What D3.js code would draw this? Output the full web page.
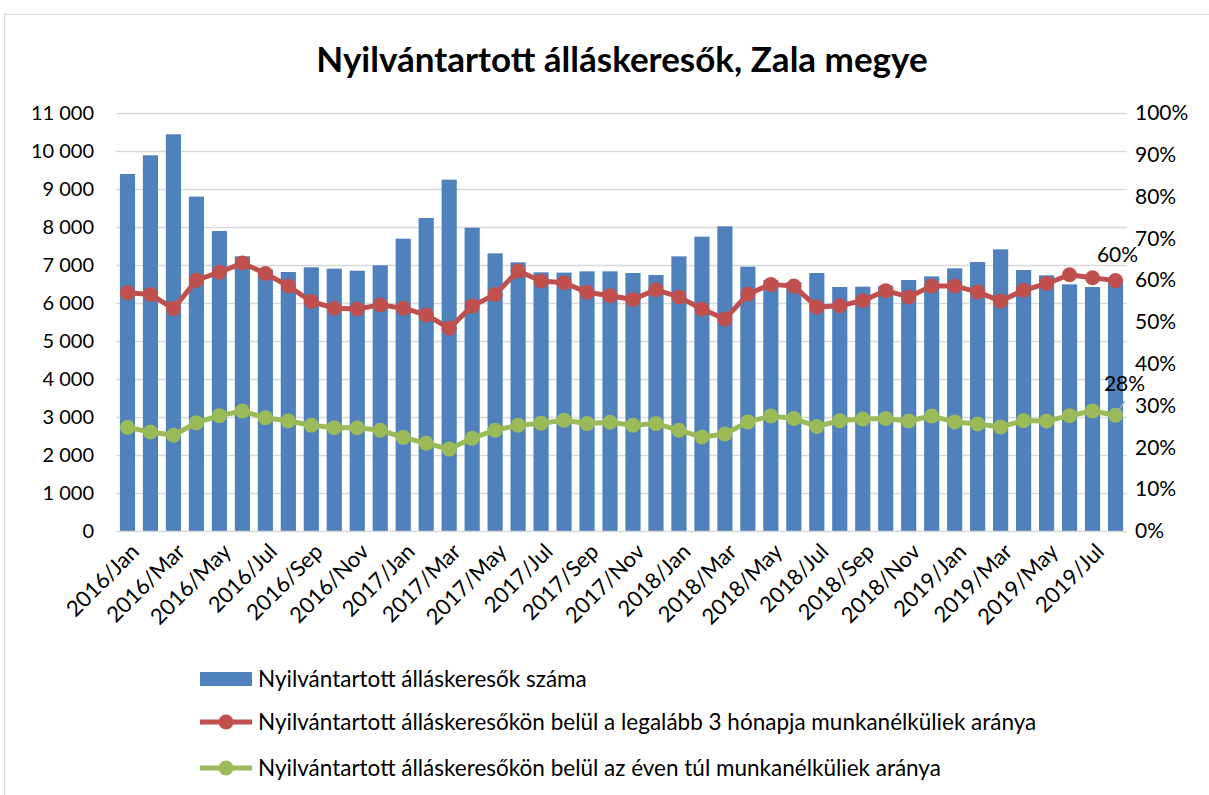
<!DOCTYPE html>
<html>
<head>
<meta charset="utf-8">
<script src="https://cdn.jsdelivr.net/npm/d3@7"></script>
<style>
  body { margin: 0; background: #fff; }
  svg text { font-family: Lato, "Open Sans", sans-serif; fill: #000; }
</style>
</head>
<body>
<div id="chart"></div>
<script>
// --- data ---
const months = [
  '2016/Jan', '2016/Feb', '2016/Mar', '2016/Apr', '2016/May', '2016/Jun',
  '2016/Jul', '2016/Aug', '2016/Sep', '2016/Oct', '2016/Nov', '2016/Dec',
  '2017/Jan', '2017/Feb', '2017/Mar', '2017/Apr', '2017/May', '2017/Jun',
  '2017/Jul', '2017/Aug', '2017/Sep', '2017/Oct', '2017/Nov', '2017/Dec',
  '2018/Jan', '2018/Feb', '2018/Mar', '2018/Apr', '2018/May', '2018/Jun',
  '2018/Jul', '2018/Aug', '2018/Sep', '2018/Oct', '2018/Nov', '2018/Dec',
  '2019/Jan', '2019/Feb', '2019/Mar', '2019/Apr', '2019/May', '2019/Jun',
  '2019/Jul', '2019/Aug'
];

const jobseekers = [
  9395, 9886, 10440, 8800, 7895, 7228, 6880, 6816, 6939, 6904, 6851, 6991,
  7693, 8237, 9246, 7982, 7307, 7070, 6807, 6800, 6833, 6833, 6789, 6737,
  7228, 7746, 8018, 6956, 6600, 6550, 6789, 6421, 6430, 6447, 6605, 6700,
  6912, 7079, 7412, 6868, 6728, 6491, 6421, 6560
];

const longTerm3m = [
  0.570, 0.566, 0.532, 0.600, 0.619, 0.641, 0.616, 0.586, 0.549, 0.533, 0.531, 0.541,
  0.533, 0.517, 0.485, 0.538, 0.566, 0.622, 0.598, 0.594, 0.571, 0.563, 0.554, 0.577,
  0.560, 0.531, 0.507, 0.567, 0.590, 0.586, 0.536, 0.539, 0.551, 0.575, 0.560, 0.586,
  0.586, 0.572, 0.550, 0.576, 0.592, 0.613, 0.606, 0.599
];

const overYear = [
  0.248, 0.237, 0.229, 0.259, 0.276, 0.287, 0.271, 0.263, 0.253, 0.247, 0.247, 0.241,
  0.224, 0.210, 0.196, 0.222, 0.241, 0.253, 0.258, 0.265, 0.257, 0.260, 0.253, 0.257,
  0.241, 0.225, 0.232, 0.261, 0.275, 0.269, 0.250, 0.264, 0.268, 0.269, 0.263, 0.275,
  0.261, 0.256, 0.249, 0.264, 0.263, 0.276, 0.287, 0.277
];

const leftTicks = d3.range(0, 11001, 1000);
const rightTicks = d3.range(0, 1.0001, 0.1);

const titleText = 'Nyilvántartott álláskeresők, Zala megye';
const legendLabels = [
  'Nyilvántartott álláskeresők száma',
  'Nyilvántartott álláskeresőkön belül a legalább 3 hónapja munkanélküliek aránya',
  'Nyilvántartott álláskeresőkön belül az éven túl munkanélküliek aránya'
];

const colors = { bar: '#4F81BD', red: '#C0504D', green: '#9BBB59', grid: '#D9D9D9' };

// --- layout ---
const W = 1209, H = 795;
const plot = { left: 116, right: 1127, top: 113, bottom: 531 };
const tickFont = 21;

const svg = d3.select('#chart').append('svg')
  .attr('width', W)
  .attr('height', H);

svg.append('rect')
  .attr('width', W).attr('height', H)
  .attr('fill', '#fff');

// chart border
svg.append('rect')
  .attr('x', 4.5).attr('y', 14.5)
  .attr('width', W).attr('height', H)
  .attr('fill', 'none')
  .attr('stroke', '#D9D9D9');

const x = d3.scaleBand()
  .domain(months)
  .range([plot.left, plot.right])
  .paddingInner(0.34)
  .paddingOuter(0.17);

const y = d3.scaleLinear().domain([0, 11000]).range([plot.bottom, plot.top]);
const y2 = d3.scaleLinear().domain([0, 1]).range([plot.bottom, plot.top]);

// title
svg.append('text')
  .attr('x', 622).attr('y', 72)
  .attr('text-anchor', 'middle')
  .attr('font-size', 35)
  .attr('font-weight', 'bold')
  .text(titleText);

// gridlines
svg.append('g')
  .selectAll('line')
  .data(leftTicks.slice(1))
  .join('line')
  .attr('x1', plot.left).attr('x2', plot.right)
  .attr('y1', d => y(d) + 0.5).attr('y2', d => y(d) + 0.5)
  .attr('stroke', colors.grid)
  .attr('stroke-width', 1.5);

// left axis
const fmtThousand = d => d >= 1000 ? d3.format(',')(d).replace(/,/g, '\u00a0') : String(d);
const leftAxis = svg.append('g')
  .attr('transform', `translate(${plot.left - 22},0)`)
  .call(d3.axisLeft(y).tickValues(leftTicks).tickFormat(fmtThousand).tickSize(0).tickPadding(0));
leftAxis.select('.domain').remove();
leftAxis.selectAll('text')
  .attr('font-size', 20)
  .attr('font-family', 'Lato, sans-serif')
  .attr('fill', '#000');

// right axis
const rightAxis = svg.append('g')
  .attr('transform', `translate(${plot.right + 8},0)`)
  .call(d3.axisRight(y2).tickValues(rightTicks).tickFormat(d3.format('.0%')).tickSize(0).tickPadding(0));
rightAxis.select('.domain').remove();
rightAxis.selectAll('text')
  .attr('font-size', tickFont)
  .attr('font-family', 'Lato, sans-serif')
  .attr('fill', '#000');

// bars
svg.append('g')
  .selectAll('rect')
  .data(jobseekers)
  .join('rect')
  .attr('x', (d, i) => x(months[i]))
  .attr('y', d => y(d))
  .attr('width', x.bandwidth())
  .attr('height', d => y(0) - y(d))
  .attr('fill', colors.bar);

// baseline
svg.append('line')
  .attr('x1', plot.left).attr('x2', plot.right)
  .attr('y1', plot.bottom + 0.5).attr('y2', plot.bottom + 0.5)
  .attr('stroke', colors.grid)
  .attr('stroke-width', 1.5);

// x labels (every other month)
const xAxis = svg.append('g')
  .attr('transform', `translate(0,${plot.bottom})`)
  .call(d3.axisBottom(x).tickValues(months.filter((m, i) => i % 2 === 0)).tickSize(0).tickPadding(0));
xAxis.select('.domain').remove();
xAxis.selectAll('text')
  .attr('font-size', 22)
  .attr('font-family', 'Lato, sans-serif')
  .attr('fill', '#000')
  .attr('text-anchor', 'end')
  .attr('dy', 0)
  .attr('transform', 'translate(13,22) rotate(-45)');

// lines
const cx = i => x(months[i]) + x.bandwidth() / 2;

function drawSeries(values, color) {
  const line = d3.line()
    .x((d, i) => cx(i))
    .y(d => y2(d));

  svg.append('path')
    .datum(values)
    .attr('fill', 'none')
    .attr('stroke', color)
    .attr('stroke-width', 5)
    .attr('stroke-linejoin', 'round')
    .attr('d', line);

  svg.append('g')
    .selectAll('circle')
    .data(values)
    .join('circle')
    .attr('cx', (d, i) => cx(i))
    .attr('cy', d => y2(d))
    .attr('r', 7.5)
    .attr('fill', color);
}

drawSeries(longTerm3m, colors.red);
drawSeries(overYear, colors.green);

// data labels on the last points
const last = months.length - 1;
svg.append('text')
  .attr('x', cx(last) + 2)
  .attr('y', y2(longTerm3m[last]) - 19)
  .attr('text-anchor', 'middle')
  .attr('font-size', tickFont)
  .text(d3.format('.0%')(longTerm3m[last]));

svg.append('line')
  .attr('x1', cx(last) + 2).attr('y1', y2(overYear[last]) - 3)
  .attr('x2', cx(last) + 9).attr('y2', y2(overYear[last]) - 14)
  .attr('stroke', '#A6A6A6')
  .attr('stroke-width', 1.5);

svg.append('text')
  .attr('x', cx(last) + 9)
  .attr('y', y2(overYear[last]) - 24)
  .attr('text-anchor', 'middle')
  .attr('font-size', tickFont)
  .text(d3.format('.0%')(overYear[last]));

// legend
const legend = svg.append('g').attr('transform', 'translate(200,0)');
const legendY = [679, 722, 768];

legend.append('rect')
  .attr('x', 0).attr('y', legendY[0] - 7)
  .attr('width', 52).attr('height', 14)
  .attr('fill', colors.bar);

[[colors.red, legendY[1]], [colors.green, legendY[2]]].forEach(([c, ly]) => {
  legend.append('line')
    .attr('x1', 0).attr('x2', 52)
    .attr('y1', ly).attr('y2', ly)
    .attr('stroke', c)
    .attr('stroke-width', 5);
  legend.append('circle')
    .attr('cx', 26).attr('cy', ly)
    .attr('r', 7.5)
    .attr('fill', c);
});

legend.selectAll('text.label')
  .data(legendLabels)
  .join('text')
  .attr('class', 'label')
  .attr('x', 58)
  .attr('y', (d, i) => legendY[i])
  .attr('dy', '0.35em')
  .attr('font-size', 22.5)
  .text(d => d);
</script>
</body>
</html>
